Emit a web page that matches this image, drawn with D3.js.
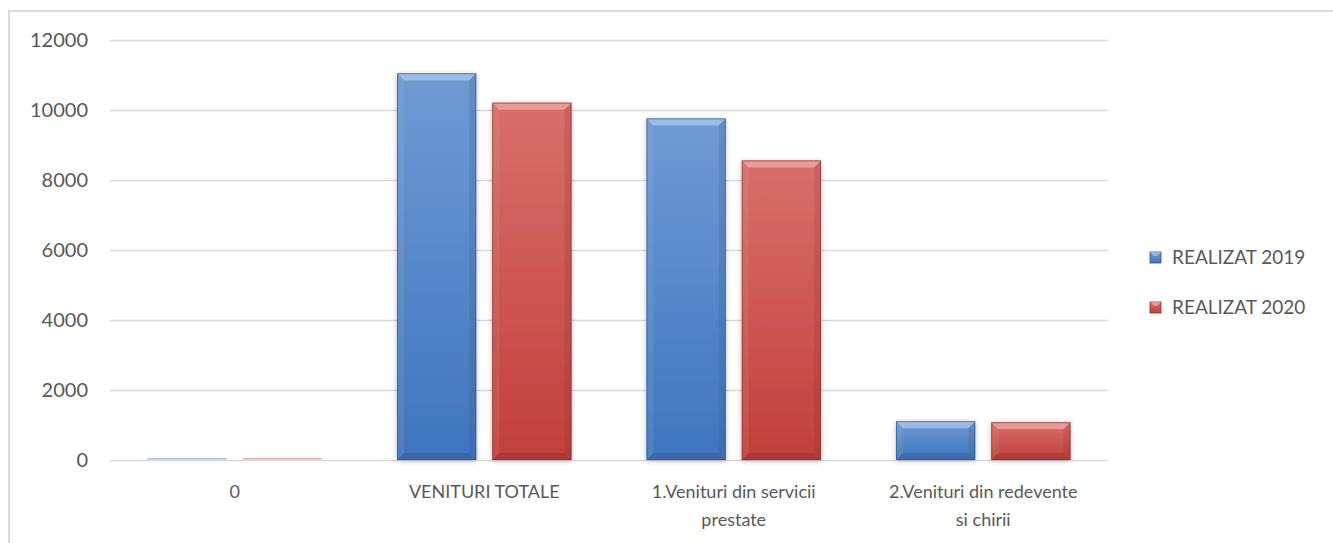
<!DOCTYPE html>
<html>
<head>
<meta charset="utf-8">
<script src="https://cdn.jsdelivr.net/npm/d3@7"></script>
<style>
  body { margin: 0; background: #fff; }
  svg text { font-family: Lato, "Open Sans", sans-serif; fill: #595959; }
</style>
</head>
<body>
<svg id="chart" width="1333" height="543"></svg>
<script>
// data
var categories = ["0", "VENITURI TOTALE", "1.Venituri din servicii prestate", "2.Venituri din redevente si chirii"];
var category_lines = [["0"], ["VENITURI TOTALE"], ["1.Venituri din servicii", "prestate"], ["2.Venituri din redevente", "si chirii"]];
var series = ["REALIZAT 2019", "REALIZAT 2020"];
var values_2019 = [30, 11050, 9760, 1110];
var values_2020 = [30, 10210, 8560, 1080];
var y_ticks = [0, 2000, 4000, 6000, 8000, 10000, 12000];

var colors = {
  "REALIZAT 2019": {top: "#6f9bd3", bottom: "#3f75bd", light: "#a9c8f0", dark: "#2d5486", thin: "#a7bfdc"},
  "REALIZAT 2020": {top: "#d86f6b", bottom: "#c0403c", light: "#f3a9a6", dark: "#8a2d2a", thin: "#dfadab"}
};

var svg = d3.select("#chart");
var defs = svg.append("defs");

// chart area border
svg.append("rect")
  .attr("x", 9).attr("y", 11)
  .attr("width", 1400).attr("height", 600)
  .attr("fill", "none")
  .attr("stroke", "#d9d9d9")
  .attr("stroke-width", 2);

series.forEach(function(s, i){
  var g = defs.append("linearGradient").attr("id", "grad" + i)
    .attr("x1", 0).attr("y1", 0).attr("x2", 0).attr("y2", 1);
  g.append("stop").attr("offset", "0%").attr("stop-color", colors[s].top);
  g.append("stop").attr("offset", "100%").attr("stop-color", colors[s].bottom);
});

var shadow = defs.append("filter").attr("id", "shadow")
  .attr("x", "-20%").attr("y", "-20%").attr("width", "140%").attr("height", "140%");
shadow.append("feDropShadow")
  .attr("dx", 0).attr("dy", 1).attr("stdDeviation", 2.5)
  .attr("flood-color", "#000").attr("flood-opacity", 0.28);

var plot_left = 110, plot_right = 1108, plot_top = 40, plot_bottom = 460;

var y = d3.scaleLinear().domain([0, 12000]).range([plot_bottom, plot_top]);
var x0 = d3.scaleBand().domain(categories).range([plot_left, plot_right]).paddingInner(0).paddingOuter(0);
var x1 = d3.scaleBand().domain(series)
  .range([37.5, x0.bandwidth() - 37.5])
  .paddingInner(0.168).paddingOuter(0);

// grid lines
var yAxis = d3.axisLeft(y).tickValues(y_ticks).tickSize(-(plot_right - plot_left)).tickPadding(22).tickFormat(d3.format("d"));
var ga = svg.append("g").attr("transform", "translate(" + plot_left + ",0)").call(yAxis);
ga.select(".domain").remove();
ga.selectAll(".tick line").attr("stroke", "#d9d9d9").attr("stroke-width", 1.5);
ga.selectAll(".tick text").attr("font-size", "20px").attr("fill", "#595959").attr("font-family", "Lato, sans-serif");

// bars
var rows = categories.map(function(c, i){
  return {cat: c, vals: [{s: series[0], v: values_2019[i]}, {s: series[1], v: values_2020[i]}]};
});

function bevel_bar(sel, d, si){
  var c = colors[d.s];
  var bx = x1(d.s), bw = x1.bandwidth();
  var by = y(d.v), bh = plot_bottom - y(d.v);
  var b = Math.min(7, bh / 2);
  if (bh <= 4) {
    // almost zero: only a thin pale line shows
    sel.append("rect")
      .attr("x", bx).attr("y", plot_bottom - 2).attr("width", bw).attr("height", 1.5)
      .attr("fill", c.thin);
    return;
  }
  sel.append("rect")
    .attr("x", bx).attr("y", by).attr("width", bw).attr("height", bh)
    .attr("fill", "url(#grad" + si + ")")
    .attr("filter", "url(#shadow)");
  // top bevel
  sel.append("polygon")
    .attr("points", [[bx, by], [bx + bw, by], [bx + bw - b, by + b], [bx + b, by + b]].join(" "))
    .attr("fill", c.light).attr("opacity", 0.75);
  // left bevel
  sel.append("polygon")
    .attr("points", [[bx, by], [bx + b, by + b], [bx + b, by + bh - b], [bx, by + bh]].join(" "))
    .attr("fill", c.light).attr("opacity", 0.12);
  // right bevel
  sel.append("polygon")
    .attr("points", [[bx + bw, by], [bx + bw - b, by + b], [bx + bw - b, by + bh - b], [bx + bw, by + bh]].join(" "))
    .attr("fill", c.dark).attr("opacity", 0.18);
  // bottom bevel
  sel.append("polygon")
    .attr("points", [[bx, by + bh], [bx + b, by + bh - b], [bx + bw - b, by + bh - b], [bx + bw, by + bh]].join(" "))
    .attr("fill", c.dark).attr("opacity", 0.35);
  sel.append("rect")
    .attr("x", bx + 0.5).attr("y", by + 0.5).attr("width", bw - 1).attr("height", bh - 1)
    .attr("fill", "none").attr("stroke", c.dark).attr("stroke-opacity", 0.6).attr("stroke-width", 1);
}

var groups = svg.selectAll("g.cat").data(rows).enter().append("g")
  .attr("class", "cat")
  .attr("transform", function(d){ return "translate(" + x0(d.cat) + ",0)"; });

groups.each(function(d){
  var g = d3.select(this);
  d.vals.forEach(function(v, si){
    bevel_bar(g.append("g"), v, si);
  });
});

// category labels
categories.forEach(function(c, i){
  var t = svg.append("text")
    .attr("x", x0(c) + x0.bandwidth() / 2)
    .attr("y", 498)
    .attr("text-anchor", "middle")
    .attr("font-size", "18px");
  category_lines[i].forEach(function(line, j){
    t.append("tspan").attr("x", x0(c) + x0.bandwidth() / 2).attr("dy", j == 0 ? 0 : 28).text(line);
  });
});

// legend
var legend = svg.append("g").attr("transform", "translate(1150,0)");
series.forEach(function(s, i){
  var ly = 257 + i * 50;
  var c = colors[s];
  legend.append("rect").attr("x", 0).attr("y", ly - 5).attr("width", 11).attr("height", 11)
    .attr("fill", "url(#grad" + i + ")").attr("stroke", c.dark).attr("stroke-width", 0.8);
  legend.append("polygon")
    .attr("points", [[0, ly - 5], [11, ly - 5], [7, ly - 1], [4, ly - 1]].join(" "))
    .attr("fill", c.light).attr("opacity", 0.7);
  legend.append("text").attr("x", 22).attr("y", ly).attr("dy", "0.35em")
    .attr("font-size", "19px").text(s);
});
</script>
</body>
</html>
